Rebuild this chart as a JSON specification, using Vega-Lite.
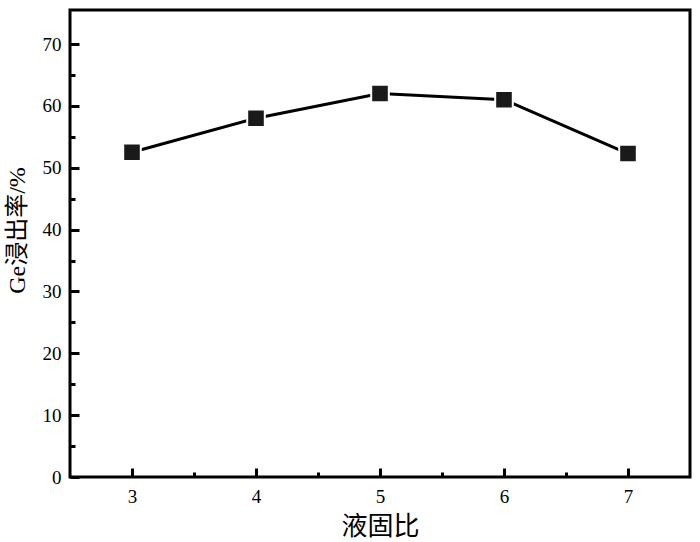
{
  "$schema": "https://vega.github.io/schema/vega-lite/v6.json",
  "width": 620,
  "height": 467,
  "autosize": {"type": "none"},
  "padding": {"left": 70, "top": 10, "right": 10, "bottom": 65},
  "background": "white",
  "config": {
    "view": {"stroke": "black", "strokeWidth": 3},
    "font": "Liberation Serif"
  },
  "data": {
    "values": [
      {"ratio": 3, "rate": 52.5},
      {"ratio": 4, "rate": 58.0},
      {"ratio": 5, "rate": 62.0},
      {"ratio": 6, "rate": 61.0},
      {"ratio": 7, "rate": 52.3}
    ]
  },
  "resolve": {"axis": {"x": "independent", "y": "independent"}},
  "layer": [
    {
      "mark": {"type": "line", "color": "black", "strokeWidth": 3},
      "encoding": {
        "x": {
          "field": "ratio",
          "type": "quantitative",
          "scale": {"domain": [2.5, 7.5], "nice": false, "zero": false},
          "axis": {
            "orient": "bottom",
            "offset": -9,
            "title": "液固比",
            "titleFont": "Liberation Serif, Noto Sans CJK SC",
            "titleFontSize": 26,
            "titleFontWeight": "normal",
            "titleColor": "black",
            "titlePadding": 7,
            "values": [3, 4, 5, 6, 7],
            "format": "d",
            "labelFont": "Liberation Serif",
            "labelFontSize": 19,
            "labelColor": "black",
            "labelPadding": 10,
            "labelFlush": false,
            "tickSize": 9,
            "tickWidth": 3,
            "tickColor": "black",
            "domain": false,
            "grid": false
          }
        },
        "y": {
          "field": "rate",
          "type": "quantitative",
          "scale": {"domain": [0, 75.5], "nice": false},
          "axis": {
            "orient": "left",
            "offset": -9,
            "title": "Ge浸出率/%",
            "titleFont": "Liberation Serif, Noto Sans CJK SC",
            "titleFontSize": 24,
            "titleFontWeight": "normal",
            "titleColor": "black",
            "titleX": -62,
            "titleY": 220,
            "titleAngle": -90,
            "titleAlign": "center",
            "titleBaseline": "middle",
            "values": [0, 10, 20, 30, 40, 50, 60, 70],
            "labelFont": "Liberation Serif",
            "labelFontSize": 19,
            "labelColor": "black",
            "labelPadding": 9,
            "labelFlush": false,
            "tickSize": 9,
            "tickWidth": 3,
            "tickColor": "black",
            "domain": false,
            "grid": false
          }
        }
      }
    },
    {
      "mark": {"type": "point", "shape": "square", "filled": true, "size": 310, "color": "#1a1a1a", "stroke": "white", "strokeWidth": 2, "opacity": 1},
      "encoding": {
        "x": {
          "field": "ratio",
          "type": "quantitative",
          "axis": {
            "orient": "bottom",
            "offset": -5,
            "title": null,
            "values": [3.5, 4.5, 5.5, 6.5],
            "labels": false,
            "tickSize": 5,
            "tickWidth": 3,
            "tickColor": "black",
            "domain": false,
            "grid": false
          }
        },
        "y": {
          "field": "rate",
          "type": "quantitative",
          "axis": {
            "orient": "left",
            "offset": -5,
            "title": null,
            "values": [5, 15, 25, 35, 45, 55, 65],
            "labels": false,
            "tickSize": 5,
            "tickWidth": 3,
            "tickColor": "black",
            "domain": false,
            "grid": false
          }
        }
      }
    }
  ]
}
